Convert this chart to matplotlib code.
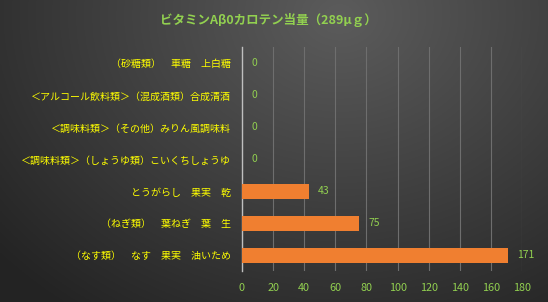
import numpy as np
import matplotlib.pyplot as plt

plt.rcParams['font.family'] = ['Noto Sans CJK JP', 'DejaVu Sans']

title = "ビタミンAβ0カロテン当量（289μｇ）"
foods = [
    "（なす類）　なす　果実　油いため",
    "（ねぎ類）　葉ねぎ　葉　生",
    "とうがらし　果実　乾",
    "＜調味料類＞（しょうゆ類）こいくちしょうゆ",
    "＜調味料類＞（その他）みりん風調味料",
    "＜アルコール飲料類＞（混成酒類）合成清酒",
    "（砂糖類）　車糖　上白糖",
]
amounts = [171, 75, 43, 0, 0, 0, 0]
ticks = [0, 20, 40, 60, 80, 100, 120, 140, 160, 180]

fig = plt.figure(figsize=(5.48, 3.02), dpi=100)

# dark gradient background
bg = fig.add_axes([0, 0, 1, 1])
yy, xx = np.mgrid[0:1:200j, 0:1:300j]
d = np.sqrt(((xx - 0.62) / 0.75) ** 2 + ((yy - 0.05) / 1.1) ** 2)
shade = np.clip(0.36 - 0.2 * d, 0.14, 0.36)
bg.imshow(np.dstack([shade] * 3), extent=[0, 1, 0, 1], aspect='auto')
bg.axis('off')

ax = fig.add_axes([0.4416, 0.101, 0.511, 0.742])
ax.patch.set_alpha(0)
pos = np.arange(len(foods))
ax.barh(pos, amounts, height=0.47, color='#f07f30', linewidth=0, zorder=3)
for p, v in zip(pos, amounts):
    ax.text(v + 6, p, str(v), color='#92d050', fontsize=7.5, va='center', ha='left')

ax.set_xlim(0, 180)
ax.set_ylim(-0.5, len(foods) - 0.5)
ax.set_xticks(ticks)
ax.set_xticklabels([str(t) for t in ticks])
ax.set_yticks(pos)
ax.set_yticklabels(foods)
ax.tick_params(axis='x', colors='#92d050', labelsize=7.8, length=0, pad=8)
ax.tick_params(axis='y', colors='#ffff00', labelsize=7.2, length=0, pad=8)
ax.grid(axis='x', color='#6e6e6e', linewidth=0.8, zorder=0)
for s in ['top', 'right', 'bottom']:
    ax.spines[s].set_visible(False)
ax.spines['left'].set_color('#bfbfbf')
ax.spines['left'].set_linewidth(1.0)

fig.text(0.49, 0.935, title, color='#92d050', fontsize=9, fontweight='bold', ha='center', va='center')

fig.savefig('out.png', dpi=100)
